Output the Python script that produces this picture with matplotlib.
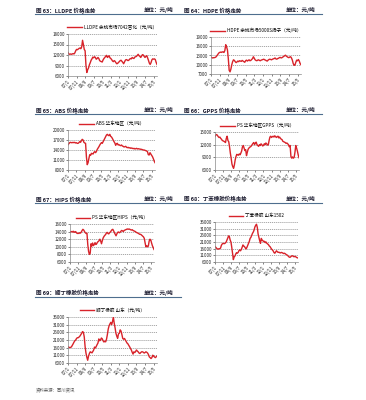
import matplotlib
matplotlib.use('Agg')
import matplotlib.pyplot as plt
import numpy as np

plt.rcParams['font.family'] = ['Noto Sans CJK SC', 'DejaVu Sans']

# x 轴标签 (每 10 个月一个)
tick_labels = ['07/1', '07/11', '08/9', '09/7', '10/5', '11/3', '12/1', '12/11', '13/9', '14/7', '15/5']

# 月度价格 07/1 - 15/9 (元/吨)
lldpe = [12700, 12300, 12200, 12300, 12200, 12300, 12400, 12300, 12600, 13200, 13600, 13500,
         13700, 13900, 14000, 13800, 14300, 16200, 15000, 13600, 13200, 9000, 7000, 7800,
         8300, 9200, 9800, 10500, 10900, 11400, 11200, 11500, 11300, 10800, 11000, 11300,
         11000, 10400, 10200, 10100, 10000, 10600, 11000, 11300, 11600, 11900, 11300, 11500,
         11800, 11200, 11000, 10700, 10300, 10100, 10400, 10200, 9800, 9500, 9600, 9900,
         10100, 10400, 10500, 10200, 9900, 9500, 10000, 10500, 10700, 10600, 10400, 10500,
         10800, 11000, 10900, 11300, 11100, 11000, 11400, 11500, 11600, 11900, 12200, 11800,
         11600, 11300, 11700, 12100, 12000, 11600, 11300, 11600, 11800, 11200, 10500, 9700,
         9300, 9800, 10600, 10900, 10800, 10900, 10700, 9900, 9300]

hdpe = [12500, 12300, 12200, 12300, 12300, 12400, 12600, 13000, 13400, 13800, 14000, 14100,
        14000, 14200, 14100, 14000, 14600, 16500, 15800, 14800, 12000, 8200, 7700, 8600,
        10000, 11000, 11600, 11400, 11000, 10700, 10900, 11200, 11000, 11300, 11200, 11100,
        11400, 11200, 11000, 10800, 11300, 11500, 11200, 11400, 11600, 11300, 11400, 11700,
        12000, 12600, 12100, 11600, 11400, 11300, 11500, 11600, 11400, 11300, 11500, 11600,
        11700, 11800, 11600, 11500, 11300, 11200, 11500, 11700, 11800, 11700, 11600, 11800,
        11900, 12000, 12200, 11900, 11800, 12000, 12100, 12300, 12400, 12200, 12300, 12500,
        12700, 12900, 13100, 12800, 12600, 12400, 12300, 12500, 12600, 12200, 11500, 10400,
        9800, 9900, 10800, 11500, 11300, 11700, 11200, 10400, 10000]

abs_hd = [15600, 15900, 16200, 16300, 16200, 16200, 16300, 16200, 16300, 16100, 16200, 16000,
          16000, 16200, 16500, 16300, 16800, 17200, 17000, 16300, 16100, 16000, 12000, 9600,
          10200, 11500, 12600, 12400, 13000, 12900, 12800, 13300, 13500, 13200, 13600, 14200,
          14600, 15000, 15500, 15900, 16200, 16000, 16500, 17000, 17500, 18000, 18500, 18700,
          18400, 18300, 18700, 18100, 17900, 17500, 17000, 16500, 16100, 15400, 15900, 16000,
          15500, 15600, 15400, 15300, 15500, 15200, 15100, 14900, 15000, 15100, 14800, 14700,
          14800, 14600, 14700, 14500, 14600, 14500, 14400, 14500, 14300, 14400, 14500, 14300,
          14400, 14300, 14300, 14200, 14200, 14100, 14000, 14000, 13900, 13800, 13700, 13500,
          12600, 12500, 13200, 12800, 12400, 12000, 11400, 10700, 10200]

gpps = [14000, 14300, 14400, 14200, 13900, 13700, 13800, 13500, 13300, 13000, 12900, 12800,
        12700, 12500, 13500, 14000, 13000, 12700, 11500, 10000, 8800, 7400, 6800, 6400,
        7200, 8400, 9200, 9700, 9600, 9500, 9800, 9600, 10000, 10500, 11500, 11800,
        11200, 10600, 10800, 9400, 10200, 10900, 11200, 11400, 11500, 11700, 12000, 12300,
        12500, 12000, 12400, 12600, 12000, 11800, 11600, 12000, 11800, 12200, 12000, 11700,
        11800, 12200, 12000, 12400, 12200, 11900, 12000, 13000, 13800, 14000, 13700, 13900,
        14000, 13800, 14100, 13900, 13700, 13900, 14000, 13600, 13800, 13500, 13300, 13200,
        12800, 12700, 12600, 12500, 12300, 12400, 12200, 12000, 11500, 11800, 9200, 8800,
        9100, 8800, 9000, 10200, 11800, 11200, 10500, 9600, 8900]

hips = [13800, 14000, 14000, 13900, 14100, 13800, 13900, 14000, 13700, 13500, 13600, 13500,
        13700, 13600, 13900, 14300, 14600, 14400, 14000, 13700, 13500, 13600, 10600, 8800,
        8000, 8300, 10800, 10200, 11000, 10300, 10600, 11100, 10600, 10800, 11200, 11400,
        11600, 12000, 11500, 10800, 11600, 12300, 12700, 13000, 13200, 13600, 13800, 13500,
        13400, 13700, 13900, 14200, 14500, 14600, 14200, 13700, 13300, 12900, 13400, 13800,
        13900, 13700, 13800, 14100, 14300, 14200, 14000, 14300, 14400, 14500, 14600, 14700,
        14600, 14700, 14600, 14500, 14400, 14500, 14300, 14200, 14100, 14000, 13800, 13700,
        13600, 13500, 13300, 13300, 13200, 13000, 12800, 12600, 12200, 11000, 10000, 10300,
        10000, 10200, 11500, 12000, 11800, 11000, 10300, 9800, 9300]

sbr = [17500, 17000, 16300, 15800, 15600, 16000, 15900, 16500, 18500, 19500, 20000, 19800,
       19800, 20300, 21000, 22500, 24000, 25600, 25000, 22500, 21000, 17000, 12500, 7800,
       9800, 10500, 12000, 13000, 12600, 13200, 14500, 15100, 14400, 15500, 17000, 18800,
       18000, 17500, 16500, 15800, 17000, 18500, 20000, 21500, 23700, 24500, 26000, 27500,
       28500, 30000, 32300, 33500, 34300, 32000, 27000, 24500, 22000, 20000, 23700, 22500,
       22000, 21200, 21500, 20500, 21000, 20000, 19500, 19000, 18000, 17500, 16500, 15600,
       15000, 14200, 13000, 12600, 13500, 14400, 13800, 13200, 13400, 13000, 12800, 13200,
       13000, 12700, 12300, 12600, 12200, 11700, 11300, 11000, 10200, 9700, 9500, 10000,
       10500, 10700, 10300, 9900, 10200, 10000, 9500, 9200, 9000]

br = [16600, 16300, 16000, 16200, 16500, 17500, 18500, 19600, 20500, 21000, 22000, 22500,
      22500, 23000, 23600, 24500, 25400, 26500, 26000, 23000, 16600, 12500, 9800, 7800,
      10500, 12200, 13300, 13000, 12600, 13500, 14500, 16400, 15800, 16800, 18000, 19000,
      21700, 20500, 21000, 22300, 21800, 20500, 19700, 20200, 19800, 21500, 24500, 28100,
      30300, 31500, 32500, 31000, 33000, 35900, 32000, 29000, 25400, 23500, 22100, 25000,
      25400, 27600, 26800, 24500, 22000, 21500, 22000, 21000, 20000, 19000, 18500, 17500,
      16600, 15500, 14500, 13000, 11800, 13300, 12800, 13500, 14500, 13800, 13300, 12500,
      12200, 12800, 13300, 13300, 13000, 12500, 12800, 13300, 13000, 12500, 11500, 10000,
      9500, 8900, 9500, 11100, 10500, 10000, 9500, 10000, 10500]

RED = '#d8232a'
HEAD = '#4e6e8e'

fig = plt.figure(figsize=(3.66, 4.0), dpi=100)
fig.patch.set_facecolor('white')


def panel(rect, data, label, yticks):
    ax = fig.add_axes(rect)
    ax.plot(np.arange(len(data)), data, color=RED, lw=1.0, label=label)
    ax.set_xlim(0, len(data) - 1)
    ax.set_ylim(yticks[0], yticks[-1])
    ax.set_yticks(yticks)
    ax.set_yticklabels([str(v) for v in yticks])
    ax.set_xticks(np.arange(0, 101, 10))
    ax.set_xticklabels(tick_labels, rotation=45, ha='right', rotation_mode='anchor')
    ax.tick_params(labelsize=3.2, length=1.2, width=0.4, pad=1, colors='#222')
    ax.yaxis.grid(True, linestyle=(0, (2, 1.5)), color='#666', lw=0.4)
    for s in ['top', 'right']:
        ax.spines[s].set_visible(False)
    for s in ['left', 'bottom']:
        ax.spines[s].set_color('#888')
        ax.spines[s].set_linewidth(0.5)
    ax.legend(loc='lower center', bbox_to_anchor=(0.5, 1.04), frameon=False,
              fontsize=3.3, handlelength=3.2, handletextpad=0.5, borderpad=0)
    return ax


def header(y, x0, x1, title):
    fig.text(x0 / 366, 1 - y / 400, title, fontsize=4, fontweight='bold',
             color='#1a1a2e', va='center')
    fig.text((x1 - 36) / 366, 1 - y / 400, '单位：元/吨', fontsize=4,
             fontweight='bold', color='#1a1a2e', va='center')


panel([68 / 366, 1 - 76 / 400, 89 / 366, 42 / 400], lldpe,
      'LLDPE 余姚市场7042吉化（元/吨）', [6000, 9000, 12000, 15000, 18000])
panel([211 / 366, 1 - 74 / 400, 90 / 366, 37 / 400], hdpe,
      'HDPE 余姚市场5000S扬子（元/吨）', [7000, 10000, 13000, 16000, 19000])
panel([68 / 366, 1 - 170 / 400, 87 / 366, 40 / 400], abs_hd,
      'ABS 华东地区（元/吨）', [8000, 11000, 14000, 17000, 20000])
panel([215 / 366, 1 - 170 / 400, 84 / 366, 38 / 400], gpps,
      'PS 华东地区GPPS（元/吨）', [6000, 9000, 12000, 15000])
panel([70 / 366, 1 - 262 / 400, 84 / 366, 38 / 400], hips,
      'PS 华东地区HIPS（元/吨）', [6000, 8000, 10000, 12000, 14000, 16000])
panel([215 / 366, 1 - 262 / 400, 83 / 366, 40 / 400], sbr,
      '丁苯橡胶 山东1502', [6000, 11000, 16000, 21000, 26000, 31000, 36000])
panel([68 / 366, 1 - 363 / 400, 89 / 366, 46 / 400], br,
      '顺丁橡胶 山东（元/吨）', [6000, 11000, 16000, 21000, 26000, 31000, 36000])

# 标题栏
header(10, 36, 180, '图 63：LLDPE 价格走势')
header(10, 184, 322, '图 64：HDPE 价格走势')
header(110, 36, 180, '图 65：ABS 价格走势')
header(110, 184, 322, '图 66：GPPS 价格走势')
header(199, 36, 180, '图 67：HIPS 价格走势')
header(199, 184, 322, '图 68：丁苯橡胶价格走势')
header(293, 36, 180, '图 69：顺丁橡胶价格走势')

for yl, x0, x1 in [(14, 35, 322), (114, 35, 322), (203, 35, 322), (297, 35, 181)]:
    fig.add_artist(plt.Line2D([x0 / 366, x1 / 366], [1 - yl / 400, 1 - yl / 400],
                              color=HEAD, lw=0.8))

fig.text(36 / 366, 1 - 390 / 400, '资料来源：百川资讯', fontsize=3.2,
         color='#555', va='center', style='italic')

fig.savefig('out.png', dpi=100, facecolor='white')
